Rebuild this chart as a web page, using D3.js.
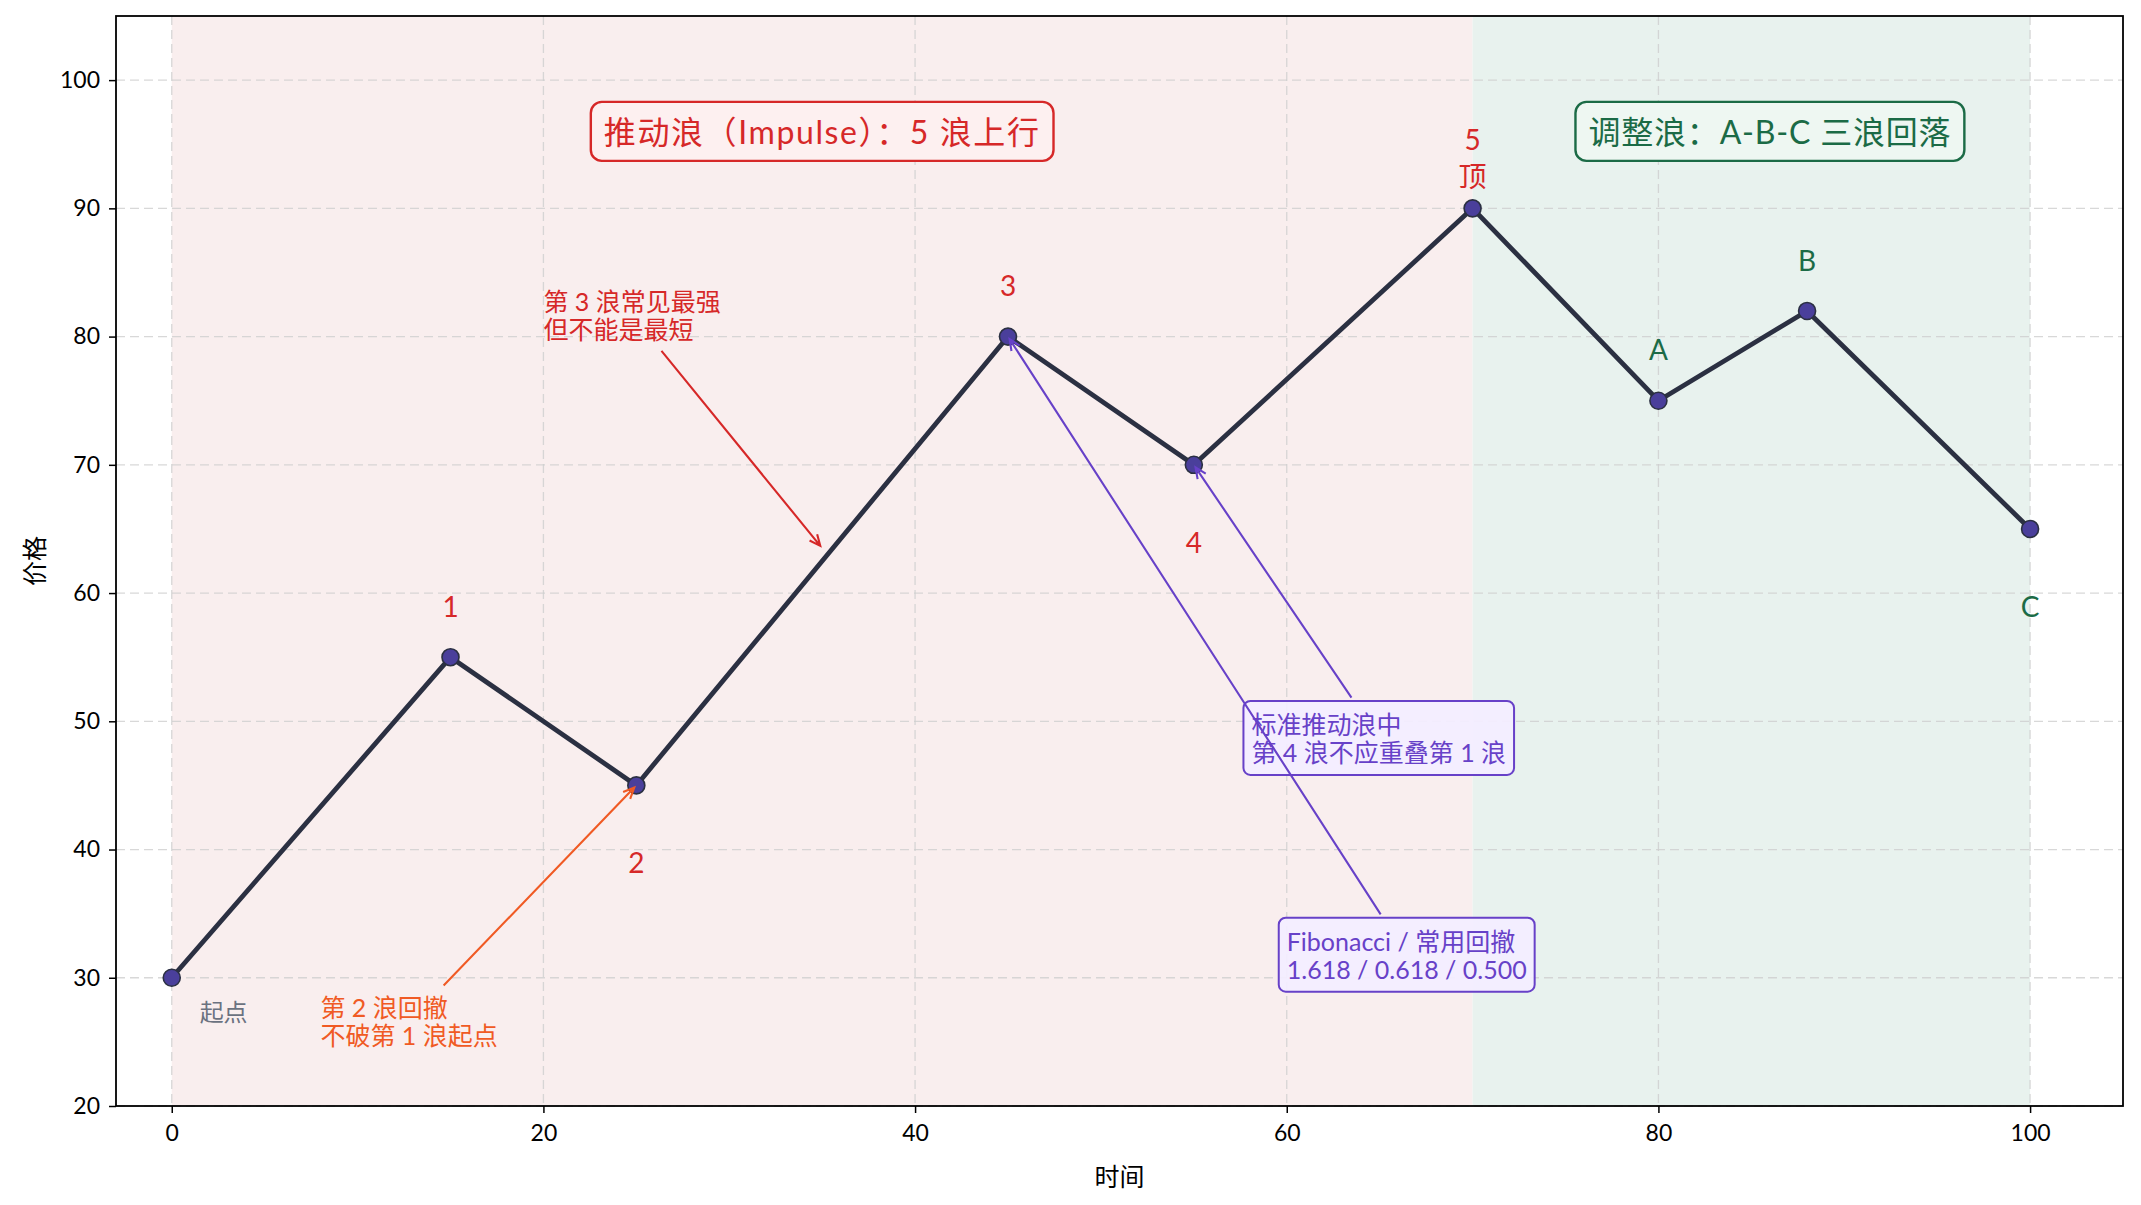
<!DOCTYPE html>
<html>
<head>
<meta charset="utf-8">
<script src="https://cdn.jsdelivr.net/npm/d3@7"></script>
<style>
	body { margin: 0; background: #fff; }
	svg text { font-family: "Lato", "Noto Sans CJK SC", sans-serif; }
</style>
</head>
<body>
<div id="chart"></div>
<script>
// wave turning points
const waveX = [0, 15, 25, 45, 55, 70, 80, 88, 100];
const waveY = [30, 55, 45, 80, 70, 90, 75, 82, 65];
const waveLabels = ["", "1", "2", "3", "4", "5\n顶", "A", "B", "C"];
const waveLabelUp = [false, true, false, true, false, true, true, true, false];

// phases (shaded spans + titles)
const phaseNames = ["推动浪（Impulse）：5 浪上行", "调整浪：A-B-C 三浪回落"];
const phaseStart = [0, 70];
const phaseEnd = [70, 100];
const phaseTitleAt = [[35, 96], [86, 96]];

// annotations with arrows
const noteTexts = [
	"第 3 浪常见最强\n但不能是最短",
	"第 2 浪回撤\n不破第 1 浪起点",
	"标准推动浪中\n第 4 浪不应重叠第 1 浪",
	"Fibonacci / 常用回撤\n1.618 / 0.618 / 0.500"
];
const noteAt = [[20, 81.7], [8, 26.6], [58.1, 48.7], [60, 31.8]];
const noteTarget = [[35, 63.5], [25, 45], [55, 70], [45, 80]];

const startText = "起点";
const startAt = [1.5, 27.4];

const xTicks = [0, 20, 40, 60, 80, 100];
const yTicks = [20, 30, 40, 50, 60, 70, 80, 90, 100];

// styles
const red = "#d62828", green = "#1b6b46", orange = "#f05a24", purple = "#6741c8";
const phaseColors = [red, green];
const phaseFills = ["#fdf0f0", "#eef7f2"];
const noteColors = [red, orange, purple, purple];
const noteBoxed = [false, false, true, true];

const svgWidth = 2141, svgHeight = 1205;
const margin = {left: 116, right: 18, top: 16, bottom: 99};

var svg = d3.select("#chart").append("svg")
	.attr("width", svgWidth)
	.attr("height", svgHeight);

var x = d3.scaleLinear().domain([-3, 105]).range([margin.left, svgWidth - margin.right]);
var y = d3.scaleLinear().domain([20, 105]).range([svgHeight - margin.bottom, margin.top]);

// shaded spans
svg.selectAll(".span")
	.data(phaseStart)
	.enter().append("rect")
		.attr("x", function(d) { return x(d) })
		.attr("y", margin.top)
		.attr("width", function(d, i) { return x(phaseEnd[i]) - x(d) })
		.attr("height", y(20) - margin.top)
		.attr("fill", function(d, i) { return i == 0 ? "#f9eeee" : "#e8f2ee" });

// grid
svg.append("g").selectAll("line")
	.data(xTicks)
	.enter().append("line")
		.attr("x1", function(d) { return x(d) }).attr("x2", function(d) { return x(d) })
		.attr("y1", margin.top).attr("y2", y(20))
		.attr("stroke", "#cfcfcf").attr("stroke-width", 1.3).attr("stroke-dasharray", "9,5").attr("opacity", 0.8);
svg.append("g").selectAll("line")
	.data(yTicks)
	.enter().append("line")
		.attr("y1", function(d) { return y(d) }).attr("y2", function(d) { return y(d) })
		.attr("x1", margin.left).attr("x2", svgWidth - margin.right)
		.attr("stroke", "#cfcfcf").attr("stroke-width", 1.3).attr("stroke-dasharray", "9,5").attr("opacity", 0.8);

// axes
var xAxis = d3.axisBottom(x).tickValues(xTicks).tickSize(7).tickPadding(12).tickFormat(d3.format("d"));
var yAxis = d3.axisLeft(y).tickValues(yTicks).tickSize(7).tickPadding(9).tickFormat(d3.format("d"));

svg.append("g")
	.attr("transform", "translate(0," + y(20) + ")")
	.call(xAxis)
	.call(function(g) { g.select(".domain").remove() });
svg.append("g")
	.attr("transform", "translate(" + margin.left + ",0)")
	.call(yAxis)
	.call(function(g) { g.select(".domain").remove() });
svg.selectAll(".tick text").attr("font-size", 23).attr("fill", "#000").attr("font-family", "Lato, 'Noto Sans CJK SC'");
svg.selectAll(".tick line").attr("stroke", "#000").attr("stroke-width", 1.5);

svg.append("rect")
	.attr("x", margin.left).attr("y", margin.top)
	.attr("width", svgWidth - margin.right - margin.left)
	.attr("height", y(20) - margin.top)
	.attr("fill", "none").attr("stroke", "#000").attr("stroke-width", 1.8);

svg.append("text")
	.text("时间")
	.attr("x", (margin.left + svgWidth - margin.right) / 2)
	.attr("y", 1176)
	.attr("text-anchor", "middle")
	.attr("dominant-baseline", "central")
	.attr("font-size", 25);
svg.append("g")
	.attr("transform", "translate(34," + (margin.top + y(20)) / 2 + ")")
	.append("text")
		.text("价格")
		.attr("transform", "rotate(-90)")
		.attr("text-anchor", "middle")
		.attr("dominant-baseline", "central")
		.attr("font-size", 25);

// wave line + markers
var points = waveX.map(function(d, i) { return [d, waveY[i]] });
var line = d3.line().x(function(d) { return x(d[0]) }).y(function(d) { return y(d[1]) });

svg.append("path")
	.datum(points)
	.attr("d", line)
	.attr("fill", "none")
	.attr("stroke", "#2b3042")
	.attr("stroke-width", 4.8)
	.attr("stroke-linejoin", "round");

svg.selectAll(".dot")
	.data(points)
	.enter().append("circle")
		.attr("cx", function(d) { return x(d[0]) })
		.attr("cy", function(d) { return y(d[1]) })
		.attr("r", 8.5)
		.attr("fill", "#4a3f9b")
		.attr("stroke", "#2b3042")
		.attr("stroke-width", 1.6);

// multi-line text helper, block centred vertically on cy
function multiText(g, str, tx, cy, size, lh, anchor, color) {
	var lines = str.split("\n");
	var t = g.append("text")
		.attr("text-anchor", anchor)
		.attr("dominant-baseline", "central")
		.attr("font-size", size)
		.attr("fill", color);
	lines.forEach(function(l, i) {
		t.append("tspan")
			.attr("x", tx)
			.attr("y", cy - (lines.length - 1) * lh / 2 + i * lh)
			.text(l);
	});
	return t;
}

// wave labels
var impulseEnd = phaseEnd[0];
waveLabels.forEach(function(lab, i) {
	if (!lab) return;
	var v = waveLabelUp[i] ? waveY[i] + 4 : waveY[i] - 6;
	var color = waveX[i] <= impulseEnd ? red : green;
	multiText(svg, lab, x(waveX[i]), y(v), 28, 37, "middle", color);
});

multiText(svg, startText, x(startAt[0]), y(startAt[1]), 24, 28, "start", "#6b7280");

// phase titles in rounded boxes
phaseNames.forEach(function(name, i) {
	var g = svg.append("g");
	var t = multiText(g, name, x(phaseTitleAt[i][0]), y(phaseTitleAt[i][1]), 32, 37, "middle", phaseColors[i])
		.attr("letter-spacing", i == 0 ? 1.6 : 0.8);
	var b = t.node().getBBox();
	g.insert("rect", "text")
		.attr("x", b.x - 13).attr("y", b.y - 10)
		.attr("width", b.width + 26).attr("height", b.height + 20)
		.attr("rx", 11)
		.attr("fill", phaseFills[i])
		.attr("stroke", phaseColors[i])
		.attr("stroke-width", 2.4);
});

// annotations
function clipToRect(c, t, r) {
	var dx = t[0] - c[0], dy = t[1] - c[1];
	var sx = dx > 0 ? (r.x1 - c[0]) / dx : (r.x0 - c[0]) / dx;
	var sy = dy > 0 ? (r.y1 - c[1]) / dy : (r.y0 - c[1]) / dy;
	var s = Math.min(Math.abs(sx), Math.abs(sy));
	return [c[0] + s * dx, c[1] + s * dy];
}

noteTexts.forEach(function(txt, i) {
	var g = svg.append("g");
	var color = noteColors[i];
	var t = multiText(g, txt, x(noteAt[i][0]), y(noteAt[i][1]), 25, 28, "start", color);
	var b = t.node().getBBox();
	var pad = noteBoxed[i] ? 8 : 4;
	var r = {x0: b.x - pad, y0: b.y - pad, x1: b.x + b.width + pad, y1: b.y + b.height + pad};
	if (noteBoxed[i]) {
		g.insert("rect", "text")
			.attr("x", r.x0).attr("y", r.y0)
			.attr("width", r.x1 - r.x0).attr("height", r.y1 - r.y0)
			.attr("rx", 7)
			.attr("fill", "#f3edff")
			.attr("fill-opacity", 0.95)
			.attr("stroke", color)
			.attr("stroke-width", 2);
	}
	var c = [(r.x0 + r.x1) / 2, (r.y0 + r.y1) / 2];
	var tip = [x(noteTarget[i][0]), y(noteTarget[i][1])];
	var start = clipToRect(c, tip, r);
	var ang = Math.atan2(tip[1] - start[1], tip[0] - start[0]);
	var len = Math.hypot(tip[0] - start[0], tip[1] - start[1]);
	var shrinkA = 4, shrinkB = 3;
	var p0 = [start[0] + Math.cos(ang) * shrinkA, start[1] + Math.sin(ang) * shrinkA];
	var p1 = [start[0] + Math.cos(ang) * (len - shrinkB), start[1] + Math.sin(ang) * (len - shrinkB)];
	var path = d3.path();
	path.moveTo(p0[0], p0[1]);
	path.lineTo(p1[0], p1[1]);
	var hl = 12, ha = 0.42;
	path.moveTo(p1[0] - hl * Math.cos(ang - ha), p1[1] - hl * Math.sin(ang - ha));
	path.lineTo(p1[0], p1[1]);
	path.lineTo(p1[0] - hl * Math.cos(ang + ha), p1[1] - hl * Math.sin(ang + ha));
	svg.append("path")
		.attr("d", path.toString())
		.attr("fill", "none")
		.attr("stroke", color)
		.attr("stroke-width", 2.1);
});
</script>
</body>
</html>
